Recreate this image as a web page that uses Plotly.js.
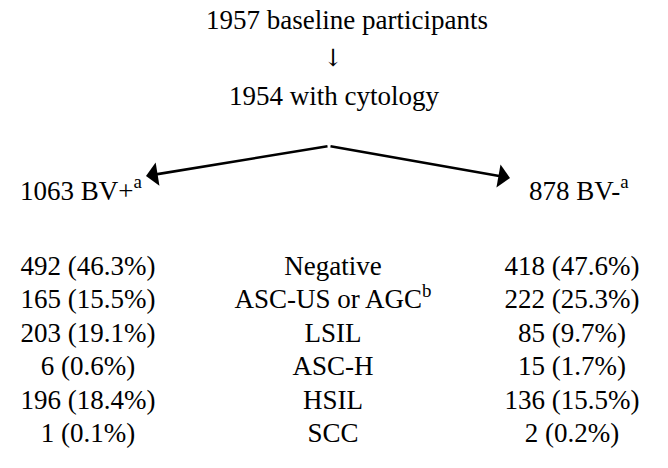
<!DOCTYPE html>
<html>
<head>
<meta charset="utf-8">
<script src="https://cdn.plot.ly/plotly-3.0.1.min.js"></script>
<style>html,body{margin:0;padding:0;background:#fff;}#chart{width:668px;height:468px;}</style>
</head>
<body>
<div id="chart"></div>
<script>
// ---- data ----
const baselineTotal = 1957;
const cytologyTotal = 1954;
const bvPosTotal = 1063;
const bvNegTotal = 878;
const categories = ['Negative', 'ASC-US or AGC<sup>b</sup>', 'LSIL', 'ASC-H', 'HSIL', 'SCC'];
const bvPosCounts = [492, 165, 203, 6, 196, 1];
const bvPosPct = ['46.3', '15.5', '19.1', '0.6', '18.4', '0.1'];
const bvNegCounts = [418, 222, 85, 15, 136, 2];
const bvNegPct = ['47.6', '25.3', '9.7', '1.7', '15.5', '0.2'];

// ---- layout constants ----
const W = 668, H = 468;
const FONT = {family: 'Times New Roman, Liberation Serif, serif', size: 27, color: '#000000'};
const ARROWFONT = {family: 'DejaVu Serif', size: 24, color: '#000000'};
const colLeft = 88, colMid = 333, colRight = 572;
const rowTop = 268, rowStep = 33.5;
const rowY = categories.map((_, i) => rowTop + i * rowStep);
const apex = {x: 329, y: 146};
const tipL = {x: 146, y: 176}, tipR = {x: 510, y: 178};

const fmt = (c, p) => c + ' (' + p + '%)';

const traces = [
  {x: [347], y: [22], text: [baselineTotal + ' baseline participants']},
  {x: [333], y: [60], text: ['\u2193'], textfont: ARROWFONT},
  {x: [334], y: [98], text: [cytologyTotal + ' with cytology']},
  {x: [20], y: [193], text: [bvPosTotal + ' BV+<sup>a</sup>'], textposition: 'middle right'},
  {x: [529], y: [193], text: [bvNegTotal + ' BV-<sup>a</sup>'], textposition: 'middle right'},
  {x: rowY.map(() => colLeft), y: rowY, text: bvPosCounts.map((c, i) => fmt(c, bvPosPct[i]))},
  {x: rowY.map(() => colMid), y: rowY, text: categories},
  {x: rowY.map(() => colRight), y: rowY, text: bvNegCounts.map((c, i) => fmt(c, bvNegPct[i]))}
].map(t => Object.assign({
  type: 'scatter', mode: 'text', textposition: 'middle center',
  textfont: FONT, hoverinfo: 'skip', showlegend: false
}, t));

const arrow = tip => ({
  x: tip.x, y: tip.y, xref: 'x', yref: 'y',
  ax: apex.x, ay: apex.y, axref: 'x', ayref: 'y',
  showarrow: true, arrowhead: 1, arrowsize: 1.5, arrowwidth: 2.6, arrowcolor: '#000', text: ''
});

const layout = {
  width: W, height: H,
  margin: {l: 0, r: 0, t: 0, b: 0},
  paper_bgcolor: '#fff', plot_bgcolor: '#fff',
  font: FONT,
  xaxis: {range: [0, W], visible: false, fixedrange: true},
  yaxis: {range: [H, 0], visible: false, fixedrange: true},
  annotations: [arrow(tipL), arrow(tipR)]
};

Plotly.newPlot('chart', traces, layout, {staticPlot: true, displayModeBar: false});
</script>
</body>
</html>
